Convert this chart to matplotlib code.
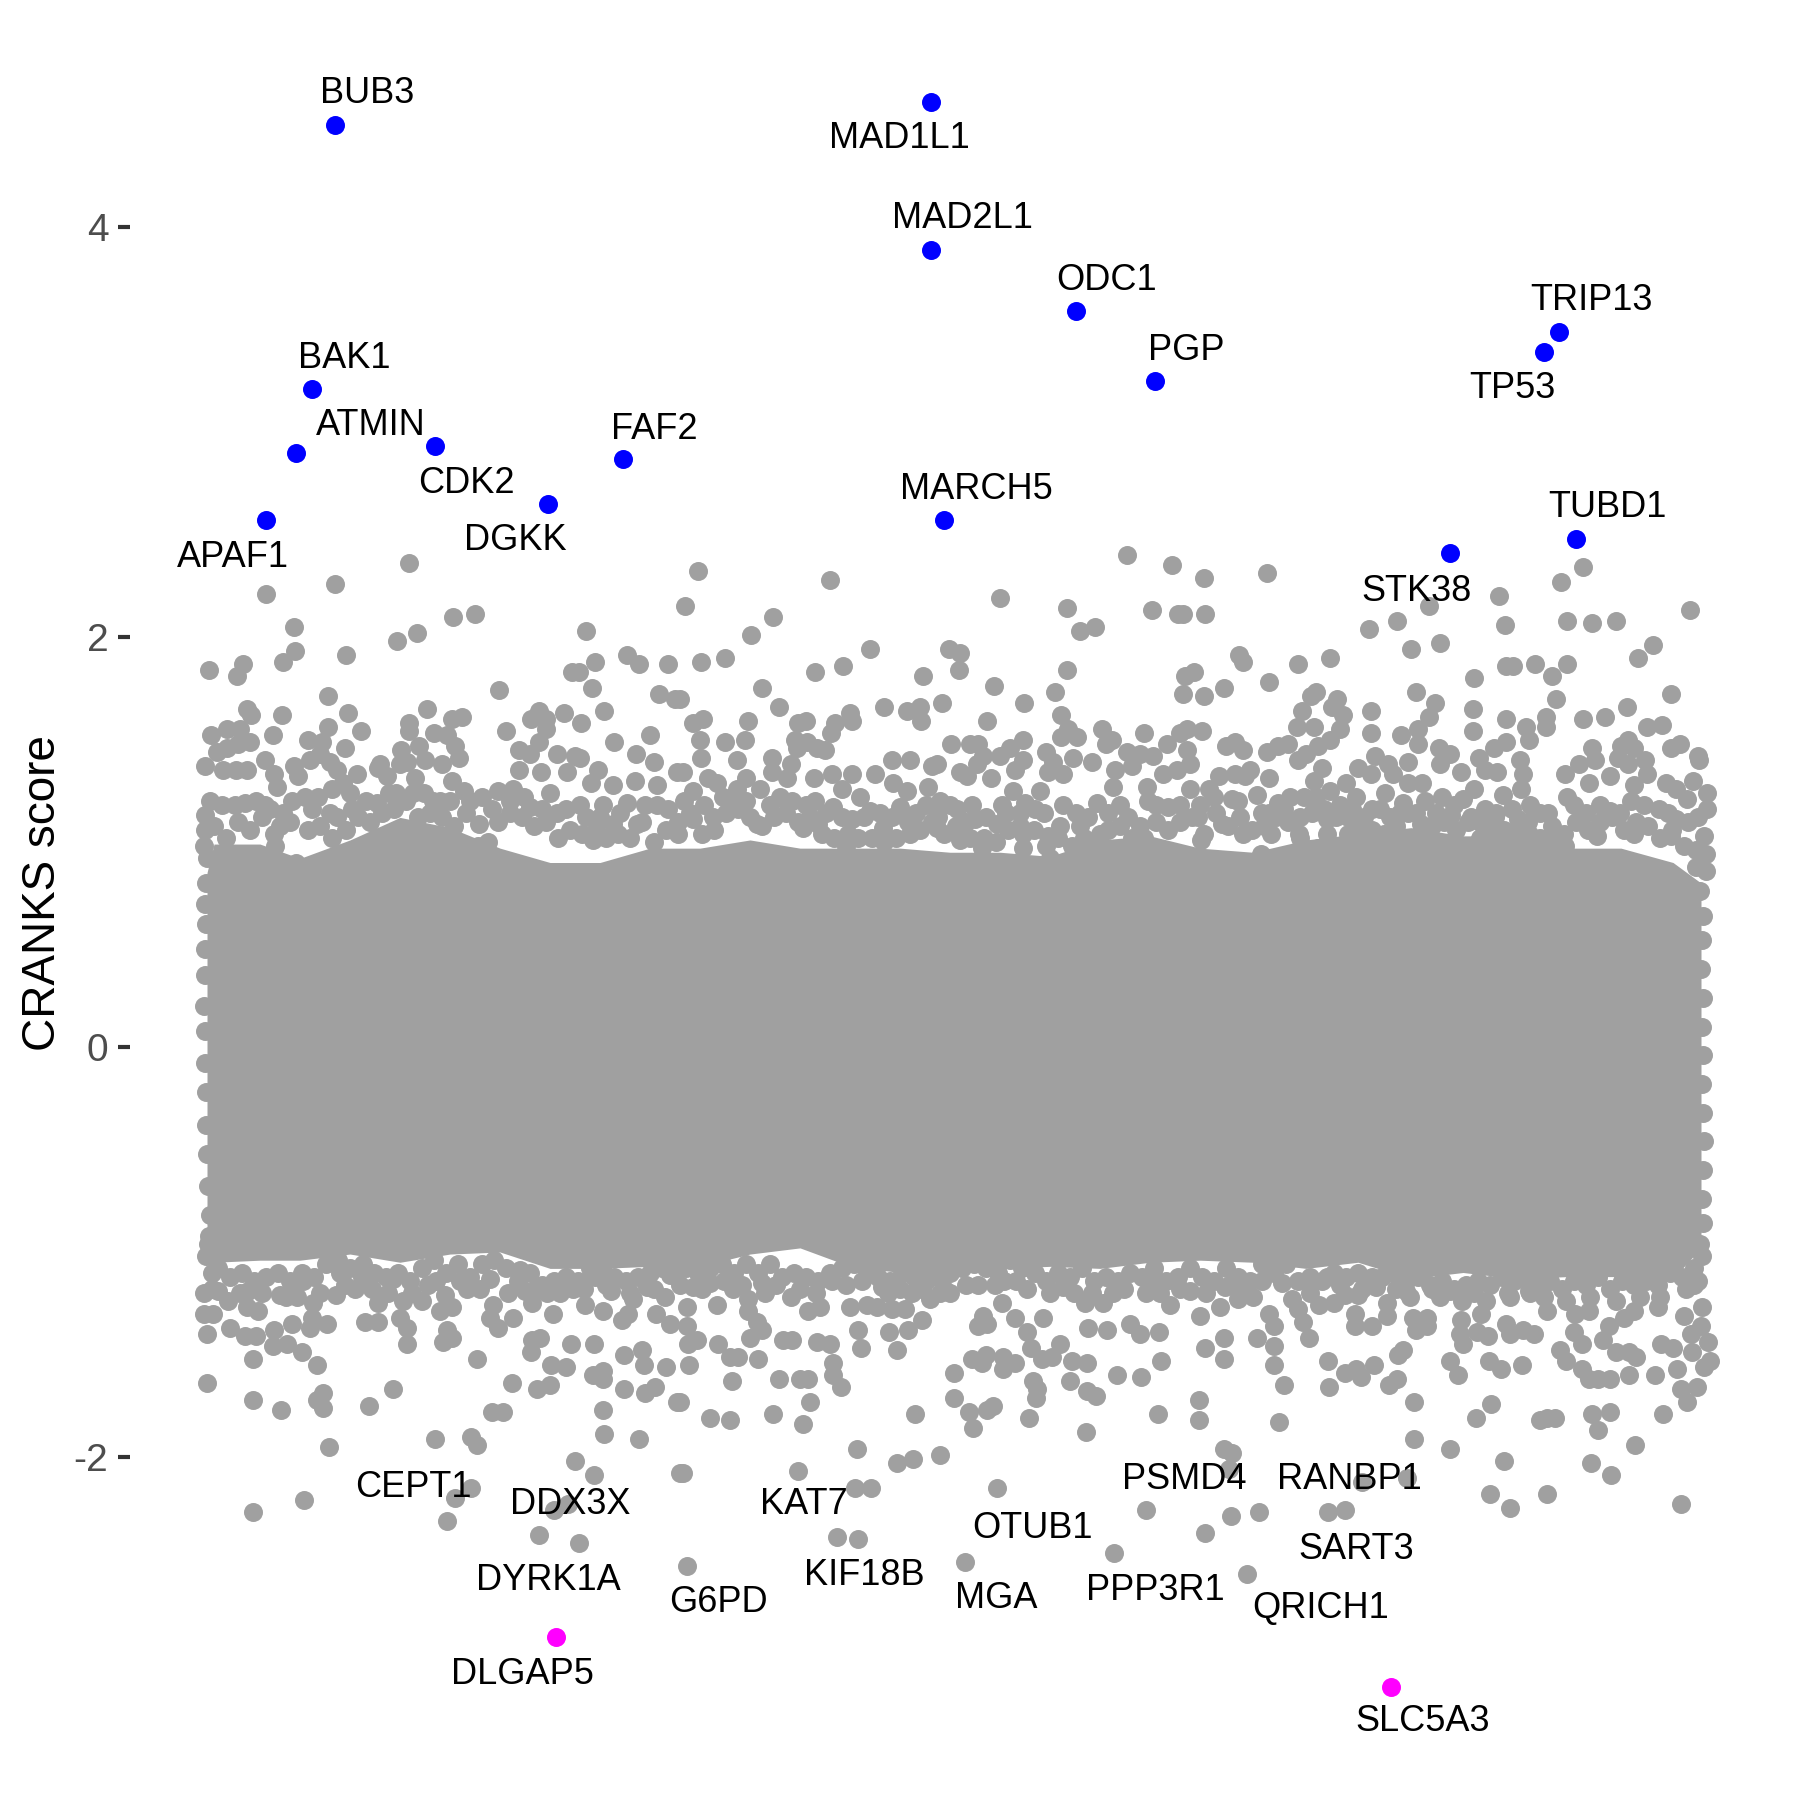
import matplotlib
matplotlib.use("Agg")
import matplotlib.pyplot as plt
import numpy as np

plt.rcParams['font.family'] = ['Liberation Sans', 'DejaVu Sans']

# solid band of overlapping genes: rank, upper and lower score envelope
band_rank = [207,214,260,300,350,400,450,500,550,600,650,700,750,800,850,900,950,1000,1050,1100,1150,
             1200,1253,1306,1358,1411,1463,1516,1568,1621,1673,1701]
band_top = [0.85,0.99,0.99,0.92,1.01,1.12,1.07,0.97,0.90,0.90,0.97,0.97,1.01,0.97,0.97,0.97,0.95,0.95,0.93,1.01,1.03,
            0.97,0.95,1.01,1.04,1.07,1.03,1.03,0.97,0.97,0.90,0.80]
band_bottom = [-0.92,-1.05,-1.04,-1.04,-1.01,-1.05,-1.01,-1.00,-1.08,-1.08,-1.07,-1.07,-1.01,-0.98,-1.07,-1.10,-1.10,-1.08,-1.07,-1.08,-1.05,
               -1.04,-1.05,-1.08,-1.05,-1.13,-1.10,-1.13,-1.12,-1.12,-1.13,-0.98]

# crowded genes along the edges of the band
top_shoulder = [(204,0.98),(214,1.08),(226,1.02),(238,1.10),(250,1.06),(262,1.12),(274,1.04),(290,1.10),(296,0.90),(320,1.08),(332,1.02),
(346,1.06),(358,1.12),(370,1.10),(382,1.14),(394,1.16),(406,1.20),(418,1.12),(430,1.14),(442,1.12),(454,1.08),(466,1.14),(478,0.98),
(498,1.10),(510,1.14),(522,1.12),(534,1.08),(546,1.10),(558,1.02),(570,1.06),(582,1.04),(596,1.06),(606,1.02),(618,1.04),(630,1.02),
(642,1.10),(654,1.00),(666,1.06),(678,1.10),(690,1.14),(702,1.04),(714,1.06),(726,1.14),(738,1.16),(750,1.12),(762,1.08),(774,1.12),
(786,1.14),(798,1.10),(810,1.12),(822,1.04),(834,1.02),(846,0.98),(858,1.02),(872,1.02),(884,1.00),(896,1.02),(908,1.10),(920,1.06),
(932,1.10),(944,1.04),(956,1.08),(970,1.02),(984,1.02),(996,1.00),(1008,1.06),(1020,1.08),(1034,1.06),(1046,0.98),(1058,1.02),
(1072,0.98),(1084,1.02),(1096,1.00),(1108,1.06),(1120,1.08),(1132,1.02),(1144,1.02),(1156,1.10),(1168,1.06),(1180,1.10),(1192,1.12),
(1204,1.04),(1216,1.14),(1228,1.08),(1240,1.12),(1252,1.06),(1264,1.08),(1276,1.12),(1288,1.10),(1300,1.02),(1312,1.14),(1324,1.16),
(1336,1.12),(1348,1.12),(1360,1.08),(1372,1.06),(1384,1.04),(1396,1.08),(1408,1.14),(1420,1.04),(1432,1.08),(1444,1.10),(1456,1.06),
(1468,1.10),(1480,1.02),(1492,1.06),(1504,1.06),(1516,1.04),(1528,1.10),(1540,1.02),(1552,1.00),(1564,1.04),(1576,1.10),(1588,1.06),
(1600,1.10),(1612,1.12),(1624,1.06),(1636,1.10),(1648,1.08),(1660,1.02),(1672,1.06),(1684,0.98),(1696,0.96)]

top_second = [(222,1.18),(256,1.20),(270,1.16),(292,1.20),(318,1.22),(330,1.14),(352,1.16),(366,1.20),(396,1.24),(424,1.24),(440,1.20),
(470,1.20),(492,1.16),(510,1.20),(524,1.22),(542,1.16),(566,1.16),(586,1.12),(600,1.12),(620,1.14),(645,1.18),(668,1.16),(684,1.20),
(704,1.18),(730,1.20),(746,1.20),(770,1.18),(792,1.20),(806,1.18),(826,1.14),(842,1.12),(864,1.12),(880,1.14),(892,1.12),(916,1.14),
(926,1.18),(950,1.18),(966,1.10),(986,1.12),(1006,1.14),(1020,1.14),(1044,1.14),(1076,1.14),(1088,1.12),(1108,1.14),(1128,1.12),
(1156,1.18),(1180,1.18),(1200,1.18),(1214,1.22),(1238,1.20),(1262,1.14),(1284,1.16),(1300,1.12),(1316,1.22),(1340,1.18),(1352,1.16),
(1380,1.16),(1400,1.14),(1416,1.14),(1436,1.14),(1454,1.18),(1480,1.10),(1496,1.14),(1512,1.16),(1530,1.18),(1548,1.14),(1574,1.18),
(1600,1.18),(1620,1.14),(1644,1.18),(1668,1.14),(1688,1.10),(1698,1.12)]

bottom_shoulder = [(206,-1.02),(218,-1.08),(230,-1.12),(242,-1.10),(254,-1.14),(266,-1.12),(278,-1.10),(290,-1.14),(302,-1.10),(314,-1.12),
(326,-1.06),(338,-1.04),(350,-1.08),(362,-1.12),(374,-1.10),(386,-1.12),(398,-1.10),(410,-1.14),(422,-1.08),(434,-1.04),(446,-1.10),
(458,-1.06),(470,-1.12),(482,-1.06),(494,-1.04),(506,-1.08),(518,-1.14),(530,-1.10),(542,-1.16),(554,-1.14),(566,-1.12),(578,-1.14),
(590,-1.08),(602,-1.08),(614,-1.12),(626,-1.14),(638,-1.12),(650,-1.10),(662,-1.08),(674,-1.10),(686,-1.08),(698,-1.10),(710,-1.08),
(722,-1.06),(734,-1.10),(746,-1.06),(758,-1.10),(770,-1.06),(782,-1.12),(794,-1.10),(806,-1.12),(818,-1.14),(830,-1.10),(842,-1.08),
(854,-1.06),(866,-1.08),(878,-1.12),(890,-1.14),(902,-1.10),(914,-1.12),(926,-1.14),(938,-1.12),(950,-1.10),(962,-1.08),(974,-1.06),
(986,-1.08),(998,-1.10),(1010,-1.04),(1022,-1.08),(1034,-1.04),(1046,-1.14),(1058,-1.10),(1070,-1.12),(1082,-1.08),(1094,-1.14),
(1106,-1.12),(1118,-1.14),(1130,-1.10),(1142,-1.12),(1154,-1.08),(1166,-1.14),(1178,-1.12),(1190,-1.08),(1202,-1.12),(1214,-1.14),
(1226,-1.08),(1238,-1.12),(1250,-1.14),(1262,-1.06),(1274,-1.10),(1286,-1.06),(1298,-1.14),(1310,-1.12),(1322,-1.14),(1334,-1.10),
(1346,-1.12),(1358,-1.10),(1370,-1.14),(1382,-1.12),(1394,-1.10),(1406,-1.14),(1418,-1.12),(1430,-1.16),(1442,-1.14),(1454,-1.18),
(1466,-1.16),(1478,-1.14),(1490,-1.16),(1502,-1.12),(1514,-1.14),(1526,-1.12),(1538,-1.16),(1550,-1.14),(1562,-1.18),(1574,-1.14),
(1586,-1.16),(1598,-1.12),(1610,-1.18),(1622,-1.14),(1634,-1.16),(1646,-1.14),(1658,-1.16),(1670,-1.10),(1682,-1.12),(1694,-1.08),(1702,-1.02)]

bottom_second = [(212,-1.18),(240,-1.20),(262,-1.20),(286,-1.22),(320,-1.20),(345,-1.16),(372,-1.18),(388,-1.20),(412,-1.20),(436,-1.14),
(460,-1.14),(480,-1.18),(508,-1.20),(536,-1.18),(560,-1.20),(584,-1.18),(606,-1.16),(630,-1.20),(654,-1.18),(680,-1.16),(702,-1.18),
(724,-1.14),(742,-1.16),(776,-1.16),(800,-1.18),(816,-1.20),(846,-1.16),(862,-1.14),(888,-1.20),(912,-1.20),(922,-1.18),(944,-1.18),
(966,-1.16),(1004,-1.14),(1016,-1.14),(1050,-1.20),(1074,-1.20),(1092,-1.20),(1124,-1.18),(1146,-1.20),(1160,-1.20),(1180,-1.18),
(1206,-1.20),(1230,-1.16),(1244,-1.18),(1262,-1.14),(1310,-1.20),(1340,-1.16),(1362,-1.18),(1396,-1.18),(1410,-1.22),(1440,-1.22),
(1462,-1.24),(1486,-1.24),(1508,-1.20),(1530,-1.20),(1544,-1.22),(1566,-1.24),(1590,-1.22),(1616,-1.24),(1640,-1.22),(1660,-1.22),
(1686,-1.18),(1698,-1.14)]

left_edge = [(207,0.92),(206,0.80),(205,0.70),(206,0.60),(205,0.48),(205,0.35),(204,0.20),(205,0.08),(205,-0.08),(206,-0.22),(206,-0.38),
(207,-0.52),(208,-0.68),(210,-0.82),(209,-0.92)]
right_edge = [(1696,0.88),(1700,0.76),(1703,0.64),(1702,0.52),(1701,0.38),(1703,0.24),(1702,0.10),(1703,-0.04),(1702,-0.18),(1703,-0.32),
(1704,-0.46),(1703,-0.60),(1702,-0.74),(1703,-0.86),(1700,-0.96)]

upper_left = [(409,2.36),(335,2.26),(266,2.21),(294,2.05),(453,2.10),(475,2.11),(417,2.02),(397,1.98),(295,1.93),(283,1.88),
(346,1.91),(243,1.87),(237,1.81),(209,1.84),(586,2.03),(595,1.88),(572,1.83),(579,1.83),(592,1.75),(627,1.91),(639,1.87),
(668,1.87),(659,1.72),(675,1.70),(499,1.74),(564,1.63),(581,1.58),(604,1.64),(539,1.64),(531,1.60),(546,1.60),(546,1.55),
(506,1.54),(539,1.49),(519,1.45),(530,1.43),(557,1.43),(575,1.42),(580,1.41),(614,1.49),(650,1.52),(636,1.43),(654,1.39),
(519,1.35),(541,1.34),(567,1.34),(598,1.35),(591,1.29),(613,1.28),(635,1.30),(657,1.28),(627,1.19),(580,1.18),(603,1.18),
(657,1.18),(677,1.34),(328,1.71),(348,1.63),(361,1.54),(328,1.56),(345,1.46),(308,1.50),(322,1.49),(320,1.43),(310,1.40),
(330,1.39),(294,1.37),(298,1.32),(337,1.35),(357,1.33),(343,1.29),(332,1.26),(350,1.24),(247,1.65),(251,1.62),(282,1.62),
(273,1.52),(211,1.52),(227,1.55),(240,1.55),(250,1.49),(238,1.48),(227,1.46),(217,1.44),(265,1.40),(205,1.37),(223,1.35),
(236,1.35),(247,1.35),(274,1.33),(277,1.27),(210,1.20),(235,1.18),(245,1.19),(265,1.18),(283,1.14),(305,1.22),(312,1.16),
(205,1.13),(205,1.06),(280,1.08),(275,0.98),(308,1.06),(337,1.12),(380,1.38),(378,1.36),(387,1.32),(401,1.45),(409,1.58),
(409,1.54),(427,1.65),(452,1.60),(462,1.61),(434,1.53),(447,1.52),(419,1.47),(455,1.47),(425,1.40),(459,1.41),(400,1.38),
(407,1.39),(442,1.38),(415,1.31),(452,1.30),(464,1.25),(389,1.24),(413,1.24),(433,1.20),(377,1.19),(450,1.20),(482,1.22),
(498,1.25),(479,1.09),(488,1.00),(513,1.26),(550,1.24),(530,1.17),(557,1.14),(613,1.09),(593,1.01),(637,1.09),(678,1.04)]

upper_middle = [(698,2.32),(685,2.15),(830,2.28),(773,2.10),(751,2.01),(725,1.90),(701,1.88),(1000,2.19),(1127,2.40),(1172,2.35),
(1067,2.14),(1152,2.13),(1178,2.11),(1080,2.03),(1095,2.05),(870,1.94),(949,1.94),(960,1.92),(959,1.84),(843,1.86),(815,1.83),
(923,1.81),(1067,1.84),(994,1.76),(1055,1.73),(1024,1.68),(1061,1.62),(762,1.75),(779,1.66),(680,1.70),(884,1.66),(907,1.64),
(920,1.66),(921,1.59),(942,1.68),(987,1.59),(703,1.60),(693,1.58),(700,1.50),(701,1.41),(725,1.49),(748,1.59),(745,1.50),
(737,1.40),(683,1.34),(708,1.31),(717,1.29),(746,1.31),(772,1.41),(772,1.34),(791,1.38),(787,1.31),(798,1.58),(806,1.59),
(795,1.50),(807,1.49),(797,1.46),(817,1.46),(825,1.45),(831,1.53),(835,1.58),(850,1.63),(852,1.59),(814,1.31),(832,1.33),
(852,1.33),(842,1.26),(875,1.33),(892,1.40),(910,1.40),(893,1.29),(907,1.25),(932,1.37),(937,1.38),(928,1.27),(951,1.48),
(970,1.48),(978,1.48),(960,1.34),(967,1.32),(977,1.38),(983,1.42),(991,1.31),(1000,1.42),(1010,1.46),(1023,1.50),(1023,1.40),
(1015,1.35),(1046,1.44),(1053,1.39),(1048,1.34),(1063,1.33),(1073,1.41),(1061,1.51),(1068,1.55),(1077,1.51),(1092,1.39),
(1102,1.55),(1112,1.50),(1106,1.48),(1144,1.53),(1127,1.44),(1140,1.43),(1167,1.48),(1180,1.53),(1132,1.37),(1153,1.42),
(1163,1.33),(1177,1.35),(1115,1.35),(1113,1.27),(1097,1.19),(1147,1.27),(1148,1.20),(1120,1.18),(1168,1.17),(1040,1.25),
(1013,1.25),(1002,1.18),(1025,1.19),(1035,1.16),(1063,1.18),(1060,1.08),(1048,1.03),(1023,1.04),(1023,0.97),(997,1.09),
(975,1.11),(972,1.18),(957,1.16),(938,1.12),(940,1.20),(900,1.17),(870,1.15),(860,1.22),(833,1.17),(815,1.20),(780,1.22),
(760,1.26),(737,1.26),(723,1.22),(693,1.25),(852,1.11),(848,1.04),(883,1.07),(818,1.09),(910,1.04),(937,1.07),(960,1.01),
(982,0.97),(1080,1.08),(1100,1.04),(1140,1.08),(1050,0.92),(803,1.07),(757,1.09),(713,1.12),(693,1.11)]

upper_right = [(1204,2.29),(1267,2.31),(1583,2.34),(1561,2.27),(1499,2.20),(1429,2.15),(1205,2.11),(1183,2.11),(1397,2.08),(1369,2.04),
(1505,2.06),(1567,2.08),(1592,2.07),(1616,2.08),(1690,2.13),(1411,1.94),(1440,1.97),(1638,1.90),(1653,1.96),(1239,1.91),
(1243,1.88),(1298,1.87),(1330,1.90),(1506,1.86),(1513,1.86),(1535,1.87),(1552,1.81),(1567,1.87),(1194,1.83),(1185,1.81),
(1224,1.75),(1204,1.71),(1183,1.72),(1269,1.78),(1474,1.80),(1671,1.72),(1556,1.70),(1416,1.73),(1435,1.68),(1316,1.73),
(1311,1.71),(1337,1.70),(1332,1.66),(1343,1.62),(1302,1.64),(1297,1.56),(1314,1.56),(1340,1.55),(1371,1.64),(1371,1.53),
(1473,1.65),(1473,1.54),(1429,1.61),(1418,1.55),(1401,1.52),(1418,1.48),(1506,1.60),(1526,1.56),(1546,1.61),(1546,1.56),
(1529,1.50),(1506,1.49),(1494,1.46),(1583,1.60),(1605,1.61),(1627,1.66),(1647,1.56),(1662,1.57),(1680,1.48),(1671,1.46),
(1698,1.42),(1699,1.40),(1693,1.30),(1707,1.24),(1707,1.16),(1704,1.03),(1706,0.94),(1706,0.86),(1628,1.50),(1621,1.47),
(1634,1.46),(1592,1.46),(1595,1.40),(1579,1.38),(1618,1.41),(1645,1.40),(1628,1.38),(1565,1.33),(1589,1.29),(1610,1.32),
(1647,1.33),(1634,1.28),(1666,1.29),(1676,1.26),(1687,1.21),(1567,1.22),(1586,1.14),(1610,1.15),(1631,1.20),(1659,1.16),
(1676,1.11),(1597,1.03),(1634,1.04),(1671,1.03),(1540,1.14),(1552,1.08),(1518,1.11),(1565,0.98),(1529,1.04),(1521,1.26),
(1523,1.33),(1520,1.40),(1503,1.23),(1479,1.41),(1497,1.34),(1485,1.35),(1474,1.26),(1463,1.21),(1485,1.16),(1495,1.12),
(1471,1.12),(1451,1.13),(1442,1.22),(1425,1.20),(1422,1.29),(1461,1.34),(1439,1.46),(1450,1.43),(1440,1.38),(1408,1.39),
(1408,1.29),(1388,1.38),(1375,1.42),(1358,1.36),(1371,1.33),(1393,1.33),(1346,1.29),(1356,1.22),(1385,1.24),(1403,1.19),
(1372,1.16),(1364,1.12),(1390,1.12),(1421,1.09),(1330,1.50),(1318,1.47),(1306,1.43),(1298,1.40),(1322,1.36),(1314,1.30),
(1330,1.25),(1304,1.22),(1290,1.22),(1278,1.19),(1269,1.14),(1288,1.48),(1278,1.47),(1267,1.44),(1235,1.49),(1226,1.47),
(1243,1.45),(1250,1.35),(1245,1.32),(1235,1.33),(1219,1.32),(1269,1.31),(1257,1.23),(1209,1.26),(1190,1.26),(1232,1.21),
(1202,1.54),(1187,1.55),(1187,1.45),(1190,1.38),(1222,1.09),(1198,1.12),(1201,1.01),(1243,1.04),(1271,1.04),(1299,1.04),
(1327,1.11),(1327,1.04),(1318,0.97),(1348,1.04),(1369,1.02),(1261,0.94)]

lower_left = [(207,-1.40),(207,-1.64),(253,-1.52),(253,-1.72),(281,-1.77),(317,-1.55),(323,-1.69),(317,-1.72),(323,-1.76),(329,-1.95),
(253,-2.27),(304,-2.21),(369,-1.75),(393,-1.67),(435,-1.91),(471,-1.90),(477,-1.94),(492,-1.78),(503,-1.78),(512,-1.64),
(477,-1.52),(471,-2.15),(455,-2.20),(447,-2.31),(575,-2.02),(594,-2.09),(568,-2.23),(554,-2.26),(539,-2.38),(579,-2.42),
(604,-1.89),(639,-1.91),(603,-1.77),(680,-2.08),(537,-1.67),(550,-1.65),(551,-1.55),(566,-1.56),(593,-1.60),(603,-1.58),
(603,-1.62),(624,-1.67),(645,-1.69),(655,-1.66),(677,-1.73),(571,-1.45),(594,-1.45),(624,-1.50),(642,-1.48),(644,-1.55),
(666,-1.56),(531,-1.49),(532,-1.43),(540,-1.42),(407,-1.45),(443,-1.44),(452,-1.42),(447,-1.38),(407,-1.37),(400,-1.32),
(422,-1.24),(403,-1.24),(378,-1.25),(365,-1.34),(378,-1.34),(440,-1.29),(452,-1.27),(445,-1.21),(428,-1.16),(355,-1.18),
(336,-1.21),(327,-1.35),(310,-1.37),(302,-1.49),(292,-1.35),(287,-1.45),(273,-1.46),(274,-1.38),(256,-1.41),(245,-1.41),
(230,-1.37),(204,-1.30),(213,-1.30),(204,-1.20),(218,-1.19),(228,-1.24),(247,-1.27),(258,-1.29),(248,-1.19),(212,-1.10),
(208,-0.96),(313,-1.25),(312,-1.32),(297,-1.22),(280,-1.21),(303,-1.14),(490,-1.32),(498,-1.37),(513,-1.32),(493,-1.26),
(467,-1.18),(490,-1.13),(532,-1.25),(553,-1.30),(525,-1.19),(547,-1.20),(573,-1.18),(585,-1.26),(603,-1.29),(611,-1.19),
(622,-1.33),(628,-1.30),(656,-1.30),(670,-1.35),(665,-1.22),(633,-1.23),(647,-1.17),(595,-1.12),(670,-1.11),(393,-1.13),
(363,-1.06),(340,-1.10),(520,-1.09)]

lower_middle = [(683,-2.08),(687,-2.53),(798,-2.07),(855,-2.15),(871,-2.15),(837,-2.39),(858,-2.40),(857,-1.96),(897,-2.03),(913,-2.01),
(940,-1.99),(997,-2.15),(965,-2.51),(1146,-2.26),(1114,-2.47),(1086,-1.88),(1158,-1.79),(1029,-1.81),(973,-1.86),(969,-1.78),
(987,-1.77),(993,-1.75),(954,-1.71),(954,-1.59),(915,-1.79),(803,-1.84),(773,-1.79),(710,-1.81),(730,-1.82),(810,-1.73),
(680,-1.73),(732,-1.63),(779,-1.62),(800,-1.62),(808,-1.62),(841,-1.66),(833,-1.60),(833,-1.54),(689,-1.55),(758,-1.52),
(730,-1.51),(738,-1.51),(718,-1.45),(697,-1.43),(688,-1.45),(687,-1.36),(750,-1.42),(762,-1.38),(757,-1.34),(783,-1.43),
(792,-1.43),(817,-1.44),(830,-1.45),(858,-1.38),(861,-1.47),(889,-1.39),(897,-1.48),(908,-1.38),(922,-1.33),(905,-1.28),
(892,-1.28),(877,-1.27),(867,-1.26),(850,-1.27),(820,-1.27),(808,-1.29),(791,-1.22),(765,-1.20),(748,-1.23),(748,-1.29),
(717,-1.26),(733,-1.18),(693,-1.17),(710,-1.15),(687,-1.27),(762,-1.15),(832,-1.14),(882,-1.17),(900,-1.18),(930,-1.23),
(950,-1.20),(940,-1.20),(978,-1.16),(995,-1.16),(983,-1.31),(978,-1.36),(987,-1.35),(1002,-1.25),(1015,-1.32),(1027,-1.39),
(1031,-1.47),(1042,-1.52),(1052,-1.51),(1060,-1.45),(1043,-1.32),(1027,-1.18),(1035,-1.10),(1063,-1.17),(1085,-1.25),
(1088,-1.37),(1107,-1.38),(1103,-1.25),(1130,-1.35),(1140,-1.40),(1159,-1.39),(1170,-1.26),(1113,-1.20),(1153,-1.14),
(1161,-1.53),(1117,-1.60),(1141,-1.61),(1072,-1.53),(1087,-1.54),(1070,-1.63),(1087,-1.68),(1096,-1.70),(1033,-1.63),
(1037,-1.67),(1036,-1.71),(972,-1.52),(986,-1.50),(982,-1.54),(1003,-1.51),(1003,-1.57),(1015,-1.54)]

lower_right = [(1199,-1.72),(1199,-1.82),(1279,-1.83),(1224,-1.96),(1232,-1.98),(1229,-2.06),(1231,-2.29),(1259,-2.27),(1205,-2.37),(1247,-2.57),
(1328,-2.27),(1345,-2.26),(1362,-2.12),(1407,-2.10),(1414,-1.91),(1450,-1.96),(1414,-1.73),(1476,-1.81),(1491,-1.74),(1504,-2.02),
(1490,-2.18),(1510,-2.25),(1547,-2.18),(1540,-1.82),(1547,-1.81),(1555,-1.81),(1592,-1.79),(1610,-1.78),(1598,-1.87),(1635,-1.94),
(1591,-2.03),(1611,-2.09),(1681,-2.23),(1663,-1.79),(1687,-1.73),(1681,-1.67),(1697,-1.66),(1677,-1.57),(1655,-1.60),(1629,-1.60),
(1610,-1.62),(1598,-1.62),(1589,-1.62),(1582,-1.57),(1566,-1.53),(1560,-1.48),(1582,-1.45),(1574,-1.39),(1603,-1.43),(1616,-1.49),
(1629,-1.49),(1636,-1.51),(1661,-1.45),(1673,-1.47),(1704,-1.56),(1710,-1.53),(1708,-1.44),(1691,-1.40),(1692,-1.49),(1701,-1.36),
(1702,-1.27),(1684,-1.31),(1694,-1.16),(1634,-1.29),(1624,-1.32),(1609,-1.36),(1575,-1.30),(1589,-1.29),(1547,-1.29),(1658,-1.27),
(1529,-1.19),(1510,-1.22),(1506,-1.35),(1510,-1.40),(1523,-1.38),(1534,-1.40),(1489,-1.53),(1501,-1.57),(1522,-1.55),(1450,-1.53),
(1458,-1.60),(1463,-1.45),(1460,-1.40),(1488,-1.41),(1477,-1.39),(1481,-1.30),(1461,-1.33),(1474,-1.20),(1450,-1.19),(1432,-1.18),
(1406,-1.19),(1413,-1.32),(1427,-1.32),(1418,-1.35),(1427,-1.36),(1416,-1.38),(1403,-1.48),(1398,-1.50),(1397,-1.62),(1389,-1.65),
(1374,-1.55),(1356,-1.57),(1361,-1.61),(1345,-1.59),(1328,-1.53),(1329,-1.66),(1284,-1.65),(1274,-1.55),(1274,-1.46),(1257,-1.42),
(1309,-1.42),(1205,-1.47),(1224,-1.42),(1224,-1.52),(1200,-1.31),(1220,-1.27),(1253,-1.22),(1238,-1.23),(1269,-1.30),(1274,-1.36),
(1303,-1.34),(1298,-1.28),(1319,-1.26),(1334,-1.25),(1345,-1.21),(1358,-1.21),(1355,-1.30),(1355,-1.36),(1372,-1.36),(1387,-1.31),
(1387,-1.25),(1376,-1.17),(1372,-1.12),(1282,-1.15),(1292,-1.23),(1327,-1.12),(1190,-1.19),(1225,-1.17)]

high_genes = ["BUB3","MAD1L1","MAD2L1","ODC1","PGP","TRIP13","TP53","BAK1","ATMIN","CDK2","FAF2","DGKK","APAF1","MARCH5","TUBD1","STK38"]
high_rank = [335,931,931,1076,1155,1559,1544,312,296,435,623,548,266,944,1576,1450]
high_score = [4.50,4.61,3.89,3.59,3.25,3.49,3.39,3.21,2.90,2.93,2.87,2.65,2.57,2.57,2.48,2.41]
low_genes = ["DLGAP5","SLC5A3"]
low_rank = [556,1391]
low_score = [-2.88,-3.12]

label_genes = ["BUB3","MAD1L1","MAD2L1","ODC1","PGP","TRIP13","TP53","BAK1","ATMIN","CDK2","FAF2","DGKK","APAF1","MARCH5","TUBD1","STK38",
               "CEPT1","DDX3X","DYRK1A","KAT7","KIF18B","G6PD","MGA","OTUB1","PSMD4","PPP3R1","RANBP1","SART3","QRICH1","DLGAP5","SLC5A3"]
label_rank = [367,899,962,1107,1186,1591,1512,344,371,466,654,515,233,976,1607,1417,
              413,570,548,804,864,718,996,1033,1184,1155,1349,1356,1321,522,1423]
label_score = [4.65,4.43,4.04,3.74,3.40,3.64,3.21,3.36,3.03,2.75,3.01,2.47,2.39,2.72,2.63,2.22,
               -2.15,-2.23,-2.60,-2.23,-2.58,-2.71,-2.69,-2.35,-2.11,-2.65,-2.11,-2.45,-2.74,-3.06,-3.29]

y_ticks = [-2, 0, 2, 4]
y_tick_labels = ["-2", "0", "2", "4"]

GRAY = "#A0A0A0"
fig = plt.figure(figsize=(18, 18), dpi=100)
ax = fig.add_axes([130/1800, 0, 1670/1800, 1])
ax.set_xlim(130, 1800)
ax.set_ylim(-753/205, 1047/205)

ax.fill_between(band_rank, band_bottom, band_top, color=GRAY, lw=0, zorder=1)
for group in (top_shoulder, top_second, bottom_shoulder, bottom_second, left_edge, right_edge,
              upper_left, upper_middle, upper_right, lower_left, lower_middle, lower_right):
    xs, ys = zip(*group)
    ax.scatter(xs, ys, s=187, c=GRAY, linewidths=0, zorder=2)
ax.scatter(high_rank, high_score, s=187, c="#0000FF", linewidths=0, zorder=3)
ax.scatter(low_rank, low_score, s=187, c="#FF00FF", linewidths=0, zorder=3)

for name, x, y in zip(label_genes, label_rank, label_score):
    ax.text(x, y, name, ha="center", va="center", fontsize=26, color="black", zorder=4)

for s in ax.spines.values():
    s.set_visible(False)
ax.set_xticks([])
ax.set_yticks(y_ticks)
ax.set_yticklabels(y_tick_labels, fontsize=28, color="#4D4D4D")
ax.tick_params(axis="y", length=8.5, width=3, color="#333333", pad=7)
ax.patch.set_alpha(0)
fig.text(43/1800, 1 - 893/1800, "CRANKS score", rotation=90, ha="center", va="center", fontsize=33, color="black")

fig.savefig("out.png", dpi=100, facecolor="white")
